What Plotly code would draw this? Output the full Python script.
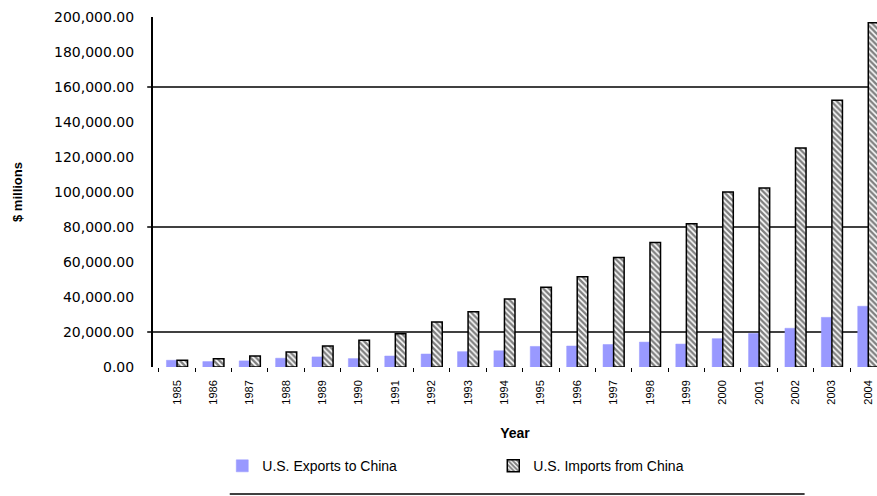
import plotly.graph_objects as go

# U.S. trade with China, $ millions
years = [str(y) for y in range(1985, 2005)]
exports_to_china = [3856, 3106, 3497, 5021, 5755, 4806, 6278, 7418, 8763, 9282,
                    11754, 11993, 12862, 14241, 13111, 16185, 19182, 22128, 28368, 34721]
imports_from_china = [3862, 4771, 6294, 8511, 11990, 15237, 18969, 25728, 31540, 38787,
                      45543, 51513, 62558, 71169, 81788, 100018, 102278, 125193, 152436, 196682]

y_tick_values = list(range(0, 200001, 20000))
y_tick_labels = [f"{v:,.2f}" for v in y_tick_values]
grid_levels = [20000, 80000, 160000]

fig = go.Figure()
fig.add_trace(go.Bar(
    x=years, y=exports_to_china, name="U.S. Exports to China",
    marker=dict(color="#9999FF", line=dict(color="#9999FF", width=0.5)),
))
fig.add_trace(go.Bar(
    x=years, y=imports_from_china, name="U.S. Imports from China",
    marker=dict(color="white", line=dict(color="black", width=1.5),
                pattern=dict(shape="\\", fgcolor="black", bgcolor="white",
                             size=4, solidity=0.6)),
))

# horizontal rules with a short tick poking out left of the axis
for lvl in grid_levels:
    fig.add_shape(type="line", xref="paper", yref="y", x0=-0.008, x1=1,
                  y0=lvl, y1=lvl, line=dict(color="black", width=1.5), layer="below")

# rule under the legend
fig.add_shape(type="line", xref="paper", yref="paper", x0=0.106, x1=0.9,
              y0=-0.363, y1=-0.363, line=dict(color="black", width=1.5))

fig.update_layout(
    width=877, height=496,
    margin=dict(l=153, r=0, t=17, b=129),
    paper_bgcolor="white", plot_bgcolor="white",
    barmode="group", bargap=0.42, bargroupgap=0,
    font=dict(family="Liberation Sans, Arial, sans-serif", color="black", size=11),
    showlegend=True,
    legend=dict(orientation="h", xref="paper", x=0.47, xanchor="center",
                yref="container", y=0.06, yanchor="middle",
                font=dict(size=14), entrywidth=226, itemwidth=30),
    xaxis=dict(
        type="category", range=[-0.66, 19.24],
        tickangle=-90, tickfont=dict(size=11),
        showline=False, showgrid=False,
        ticks="outside", ticklen=4, tickcolor="black", tickson="boundaries",
        ticklabelstandoff=10,
        title=dict(text="<b>Year</b>", font=dict(size=14), standoff=24),
    ),
    yaxis=dict(
        range=[0, 200000], tickvals=y_tick_values, ticktext=y_tick_labels,
        tickfont=dict(size=14, family="DejaVu Sans, sans-serif"),
        showgrid=False, zeroline=False,
        showline=True, linecolor="black", linewidth=2, ticks="",
        ticklabelstandoff=14,
        title=dict(text="<b>$ millions</b>", font=dict(size=13), standoff=28),
    ),
)

fig.write_html("out.html")
